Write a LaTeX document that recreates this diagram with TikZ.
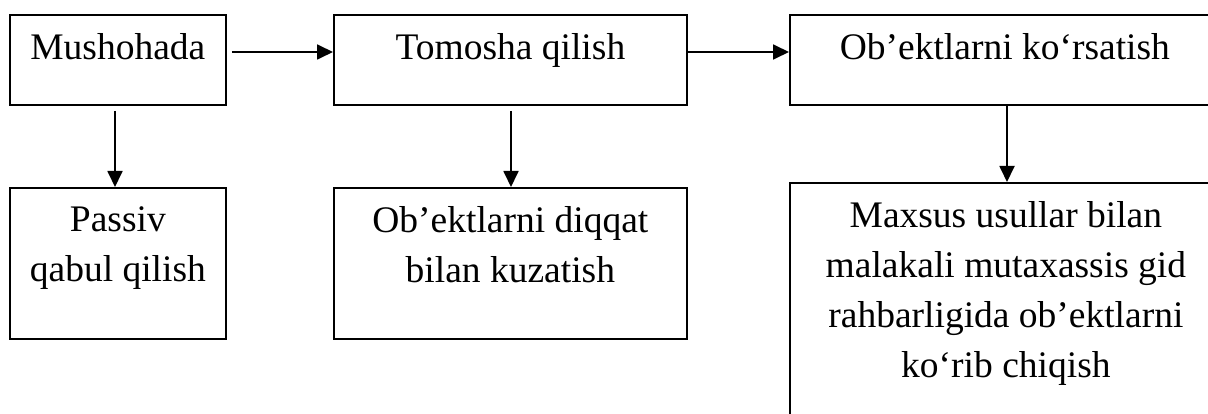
\documentclass[tikz,border=0pt]{standalone}
\usepackage{fontspec}
\setmainfont{Liberation Serif}
\usetikzlibrary{arrows.meta}
\begin{document}
\begin{tikzpicture}[x=1pt,y=-1pt,
  box/.style={draw=black,line width=1.8pt,rectangle,inner sep=0pt,anchor=north west},
  lbl/.style={anchor=north,inner sep=0pt,align=center,font=\fontsize{37.5}{50}\selectfont},
  arr/.style={line width=1.8pt,-{Triangle[length=16pt,width=15pt]}}]
\useasboundingbox (0,0) rectangle (1208,414);
\clip (0,0) rectangle (1208,414);
% boxes
\node[box,minimum width=216pt,minimum height=90pt] (A) at (9,14) {};
\node[box,minimum width=353pt,minimum height=90pt] (B) at (333,14) {};
\node[box,minimum width=436pt,minimum height=90pt] (C) at (789,14) {};
\node[box,minimum width=216pt,minimum height=151pt] (D) at (9,187) {};
\node[box,minimum width=353pt,minimum height=151pt] (E) at (333,187) {};
\node[box,minimum width=436pt,minimum height=250pt] (F) at (789,182) {};
% texts
\node[lbl] (tA) at ([yshift=-19pt]A.north) {Mushohada};
\node[lbl] (tB) at ([yshift=-19pt]B.north) {Tomosha qilish};
\node[lbl] (tC) at ([xshift=-3pt,yshift=-19pt]C.north) {Ob’ektlarni ko‘rsatish};
\node[lbl] (tD) at ([yshift=-19pt]D.north) {Passiv\\qabul qilish};
\node[lbl] (tE) at ([yshift=-19pt]E.north) {Ob’ektlarni diqqat\\bilan kuzatish};
\node[lbl] (tF) at ([xshift=-2pt,yshift=-19pt]F.north) {Maxsus usullar bilan\\malakali mutaxassis gid\\rahbarligida ob’ektlarni\\ko‘rib chiqish};
% connectors
\draw[arr] ([xshift=5pt]A.east |- 0,52) -- (B.west |- 0,52);
\draw[arr] (B.east |- 0,52) -- (C.west |- 0,52);
\draw[arr] ([yshift=-5pt]A.south -| 115,0) -- (D.north -| 115,0);
\draw[arr] ([yshift=-5pt]B.south -| 511,0) -- (E.north -| 511,0);
\draw[arr] (C.south -| 1007,0) -- (F.north -| 1007,0);
\end{tikzpicture}
\end{document}
